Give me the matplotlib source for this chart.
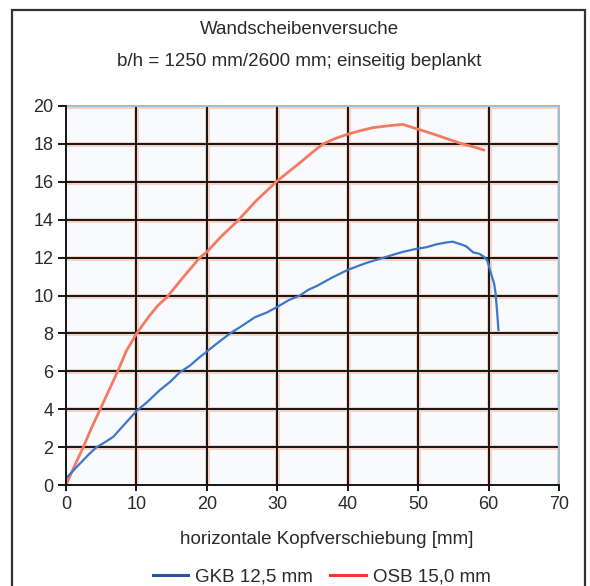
import matplotlib
matplotlib.use("Agg")
import matplotlib.pyplot as plt
from matplotlib.patches import Rectangle
from matplotlib.lines import Line2D

plt.rcParams['font.family'] = ['Liberation Sans', 'DejaVu Sans']

title1 = "Wandscheibenversuche"
title2 = "b/h = 1250 mm/2600 mm; einseitig beplankt"
xlabel = "horizontale Kopfverschiebung [mm]"
label_gkb = "GKB 12,5 mm"
label_osb = "OSB 15,0 mm"

xticks = [0, 10, 20, 30, 40, 50, 60, 70]
yticks = [0, 2, 4, 6, 8, 10, 12, 14, 16, 18, 20]

gkb_x = [0, 1.0, 2.0, 3.2, 4.35, 5.5, 6.7, 8.3, 10.0, 11.6, 13.3, 14.8, 16.2, 17.6,
         19.0, 21.4, 23.3, 25.0, 26.8, 28.5, 30.0, 31.6, 33.2, 34.4, 35.6, 37.8,
         40.0, 42.5, 44.5, 46.0, 47.8, 49.7, 51.2, 52.6, 54.0, 54.9, 55.9, 56.8,
         57.8, 58.7, 59.3, 59.8, 60.4, 60.8, 61.0, 61.2, 61.4]
gkb_y = [0.35, 0.75, 1.14, 1.6, 2.0, 2.25, 2.54, 3.2, 3.9, 4.4, 5.0, 5.45, 5.96, 6.3,
         6.75, 7.46, 8.0, 8.4, 8.85, 9.1, 9.4, 9.75, 10.0, 10.3, 10.5, 10.95,
         11.35, 11.7, 11.93, 12.1, 12.3, 12.46, 12.55, 12.7, 12.8, 12.84, 12.72, 12.6,
         12.28, 12.2, 12.05, 11.87, 11.1, 10.6, 10.1, 9.2, 8.18]

osb_x = [0, 1.2, 2.46, 3.6, 4.8, 6.1, 7.4, 8.6, 10.0, 11.0, 11.9, 13.0, 14.3, 16.5,
         19.0, 20.0, 22.0, 24.4, 27.0, 30.0, 33.2, 34.8, 36.5, 38.2, 39.9, 41.8,
         43.6, 45.0, 46.4, 47.8, 49.8, 51.5, 53.5, 56.0, 57.8, 59.3]
osb_y = [0, 1.0, 2.0, 3.0, 3.95, 5.0, 6.05, 7.1, 7.98, 8.5, 8.95, 9.45, 9.9, 10.9,
         12.0, 12.3, 13.1, 13.95, 15.0, 16.05, 17.0, 17.5, 18.0, 18.28, 18.5, 18.7,
         18.86, 18.92, 18.98, 19.03, 18.8, 18.6, 18.35, 18.03, 17.85, 17.68]

fig = plt.figure(figsize=(5.9, 5.86), dpi=100)
fig.patch.set_facecolor('white')

ax = fig.add_axes([66/590, 1-485/586, (559-66)/590, (485-106)/586])
ax.set_facecolor('#f9fafd')
ax.set_xlim(0, 70)
ax.set_ylim(0, 20)

# grid with faint salmon halo
for xv in xticks[1:-1]:
    ax.axvline(xv, color='#f6d2c4', lw=3.6, zorder=1)
    ax.axvline(xv, color='#151515', lw=1.4, zorder=2)
for yv in yticks[1:-1]:
    ax.axhline(yv, color='#f6d2c4', lw=3.6, zorder=1)
    ax.axhline(yv, color='#151515', lw=1.4, zorder=2)
ax.axvline(70, color='#f6d2c4', lw=3.6, zorder=1)
ax.axhline(20, color='#f6d2c4', lw=3.6, zorder=1)

ax.plot(osb_x, osb_y, color='#f47a62', lw=2.0, zorder=4)
ax.plot(gkb_x, gkb_y, color='#3a78c9', lw=1.6, zorder=4)

for s in ['top', 'right']:
    ax.spines[s].set_color('#9dbfd0')
    ax.spines[s].set_linewidth(1.4)
for s in ['left', 'bottom']:
    ax.spines[s].set_color('#151515')
    ax.spines[s].set_linewidth(1.4)
    ax.spines[s].set_zorder(5)

ax.set_xticks(xticks)
ax.set_yticks(yticks)
ax.tick_params(axis='x', direction='inout', length=8, width=1.4, color='#151515',
               labelsize=13, labelcolor='#2a2a2a', pad=4)
ax.tick_params(axis='y', direction='out', length=6, width=1.4, color='#151515',
               labelsize=13, labelcolor='#2a2a2a', pad=3)

fs = 13.5
fig.text(0.507, 1-30/586, title1, ha='center', va='center', fontsize=fs, color='#2a2a2a')
fig.text(0.507, 1-62/586, title2, ha='center', va='center', fontsize=fs, color='#2a2a2a')
fig.text(0.554, 1-540/586, xlabel, ha='center', va='center', fontsize=fs, color='#2a2a2a')

handles = [Line2D([], [], color='#2f4fa8', lw=2.2, label=label_gkb),
           Line2D([], [], color='#f23a32', lw=2.2, label=label_osb)]
fig.legend(handles=handles, loc='center', bbox_to_anchor=(0.545, 1-577/586), ncol=2,
           frameon=False, fontsize=fs, handlelength=1.9, handletextpad=0.37,
           columnspacing=0.9, labelcolor='#2a2a2a', borderpad=0.2)

fig.patches.append(Rectangle((12/590, -0.05), (585-12)/590, 1-10/586+0.05,
                             transform=fig.transFigure, fill=False,
                             edgecolor='#333333', lw=1.6))

fig.savefig('out.png', dpi=100)
